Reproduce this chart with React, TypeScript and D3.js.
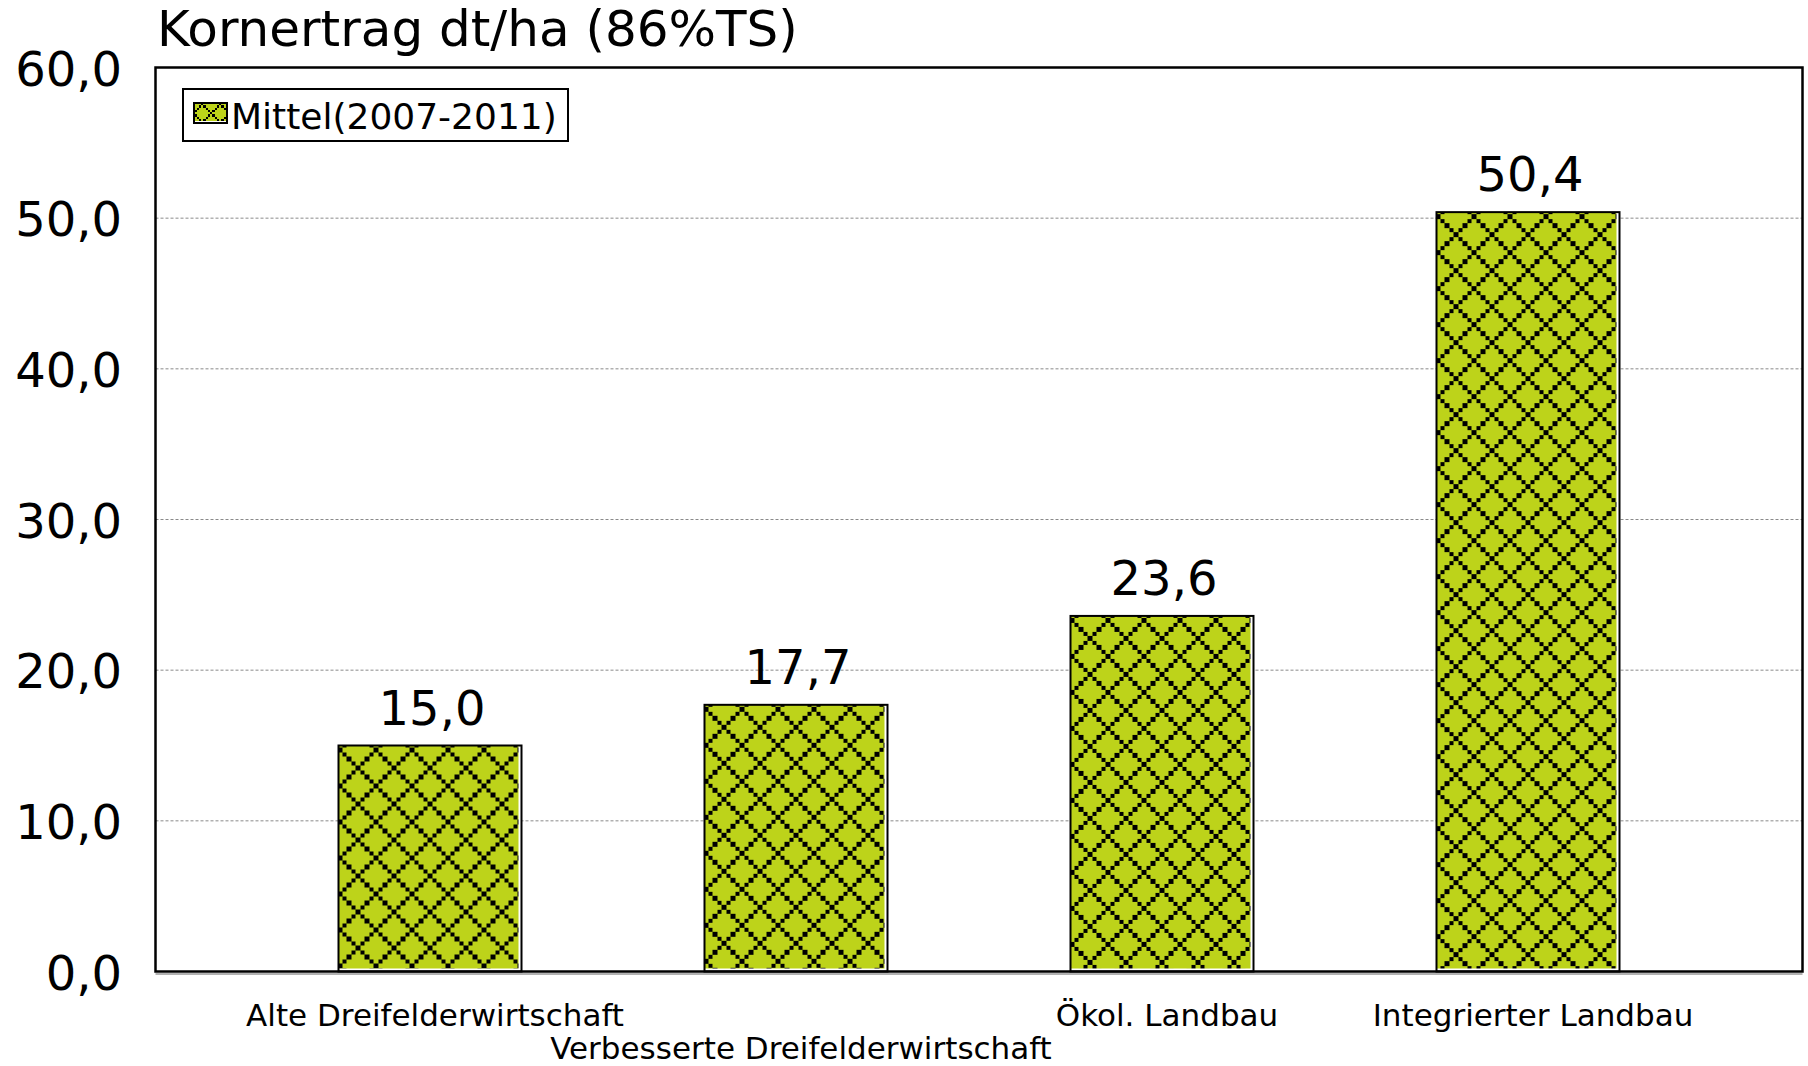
import React from "react";
import * as d3 from "d3";

const title = "Kornertrag dt/ha (86%TS)";
const seriesName = "Mittel(2007-2011)";
const categories = [
  "Alte Dreifelderwirtschaft",
  "Verbesserte Dreifelderwirtschaft",
  "Ökol. Landbau",
  "Integrierter Landbau",
];
const values = [15.0, 17.7, 23.6, 50.4];
const yTicks = [0, 10, 20, 30, 40, 50, 60];
const labelRow = [0, 1, 0, 0];

const W = 1808;
const H = 1066;
const left = 155.5;
const right = 1802.5;
const top = 67.5;
const bottom = 971.5;
const FONT = "'DejaVu Sans', Verdana, sans-serif";
const GREEN = "#BDD31A";
const N = 8; // cells per pattern tile (outlined diamond)

function cells() {
  const out: { c: number; r: number }[] = [];
  for (let i = 0; i < N; i++) {
    out.push({ c: i, r: i });
    const r2 = (N - i) % N;
    if (r2 !== i) out.push({ c: i, r: r2 });
  }
  return out;
}

export default function App() {
  const x = d3
    .scaleBand<string>()
    .domain(categories)
    .range([left, right])
    .paddingInner(0.5)
    .paddingOuter(0.5);
  const y = d3.scaleLinear().domain([0, 60]).range([bottom, top]);
  const fmt = (v: number) => d3.format(".1f")(v).replace(".", ",");

  const B = 4.5;
  const P = B * N;
  const sB = 2.25;
  const sP = sB * N;
  const pc = cells();

  const legX = 183;
  const legY = 89;
  const legW = 385;
  const legH = 52;

  return (
    <svg
      width={W}
      height={H}
      style={{ position: "absolute", left: 0, top: 0, background: "#fff" }}
      fontFamily={FONT}
    >
      <defs>
        {categories.map((c, i) => (
          <pattern
            key={c}
            id={`pat${i}`}
            patternUnits="userSpaceOnUse"
            width={P}
            height={P}
            x={x(c)! + 17 - P / 2}
            y={y(values[i]) + 20 - P / 2}
          >
            <rect width={P} height={P} fill={GREEN} />
            {pc.map((b, j) => (
              <rect
                key={j}
                x={b.c * B}
                y={b.r * B}
                width={B}
                height={B}
                fill="#000"
                shapeRendering="crispEdges"
              />
            ))}
          </pattern>
        ))}
        <pattern
          id="swatch"
          patternUnits="userSpaceOnUse"
          width={sP}
          height={sP}
          x={legX + 18}
          y={legY + 14}
        >
          <rect width={sP} height={sP} fill={GREEN} />
          {pc.map((b, j) => (
            <rect
              key={j}
              x={b.c * sB}
              y={b.r * sB}
              width={sB}
              height={sB}
              fill="#000"
              shapeRendering="crispEdges"
            />
          ))}
        </pattern>
      </defs>

      {/* title */}
      <text x={157} y={46} fontSize={50} fill="#000">
        {title}
      </text>

      {/* gridlines */}
      {yTicks
        .filter((t) => t > 0 && t < 60)
        .map((t) => (
          <line
            key={t}
            x1={left}
            x2={right}
            y1={y(t)}
            y2={y(t)}
            stroke="#8a8a8a"
            strokeWidth={1}
            strokeDasharray="3,2"
          />
        ))}

      {/* y tick labels */}
      {yTicks.map((t) => (
        <text
          key={t}
          x={122}
          y={y(t) + 18}
          fontSize={48}
          textAnchor="end"
          fill="#000"
        >
          {fmt(t)}
        </text>
      ))}

      {/* bars */}
      {categories.map((c, i) => {
        const x0 = x(c)!;
        const bw = x.bandwidth();
        const y0 = y(values[i]);
        return (
          <g key={c}>
            <rect x={x0} y={y0} width={bw} height={bottom - y0} fill="#fff" />
            <rect
              x={x0}
              y={y0}
              width={bw - 3}
              height={bottom - y0 - 3}
              fill={`url(#pat${i})`}
            />
            <rect
              x={x0}
              y={y0}
              width={bw}
              height={bottom - y0}
              fill="none"
              stroke="#000"
              strokeWidth={2}
            />
          </g>
        );
      })}

      {/* value labels */}
      {categories.map((c, i) => (
        <text
          key={c}
          x={x(c)! + x.bandwidth() / 2 + 2}
          y={y(values[i]) - 21}
          fontSize={48}
          textAnchor="middle"
          fill="#000"
        >
          {fmt(values[i])}
        </text>
      ))}

      {/* frame */}
      <line
        x1={left}
        x2={right}
        y1={bottom + 2.5}
        y2={bottom + 2.5}
        stroke="#999"
        strokeWidth={1.5}
      />
      <rect
        x={left}
        y={top}
        width={right - left}
        height={bottom - top}
        fill="none"
        stroke="#000"
        strokeWidth={2.5}
      />

      {/* x labels */}
      {categories.map((c, i) => (
        <text
          key={c}
          x={x(c)! + x.bandwidth() / 2 + 5}
          y={labelRow[i] ? 1059 : 1026}
          fontSize={31}
          textAnchor="middle"
          fill="#000"
        >
          {c}
        </text>
      ))}

      {/* legend */}
      <rect
        x={legX}
        y={legY}
        width={legW}
        height={legH}
        fill="#fff"
        stroke="#000"
        strokeWidth={2}
      />
      <rect x={legX + 11} y={legY + 14} width={33} height={20} fill="#fff" />
      <rect
        x={legX + 11}
        y={legY + 14}
        width={33}
        height={18}
        fill="url(#swatch)"
      />
      <rect
        x={legX + 11}
        y={legY + 14}
        width={33}
        height={20}
        fill="none"
        stroke="#000"
        strokeWidth={2}
      />
      <text x={legX + 48} y={legY + 40} fontSize={36} fill="#000">
        {seriesName}
      </text>
    </svg>
  );
}
